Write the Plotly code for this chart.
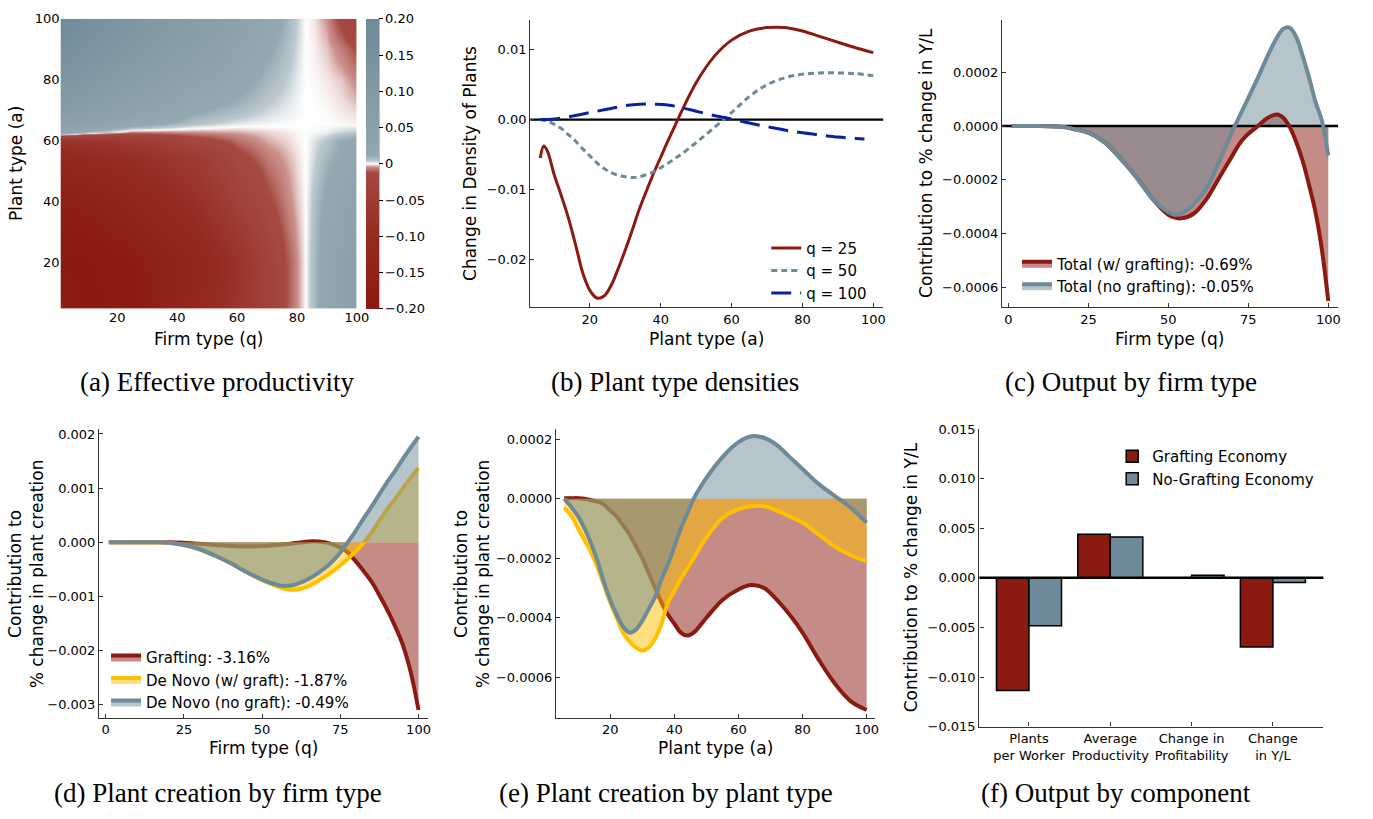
import plotly.graph_objects as go

W, H = 1373, 819
FONT = "DejaVu Sans"
SERIF = "Liberation Serif"
RED = "#8B1A10"
GRAY = "#6E8A98"
YEL = "#FFC000"
BLUE = "#0A22A0"
RED_F = "rgba(139,26,16,0.5)"
GRAY_F = "rgba(110,138,152,0.5)"
YEL_F = "rgba(255,192,0,0.5)"

# ---------------- data ----------------
# (a) effective productivity grid (rows = plant type a, cols = firm type q)
q_nodes = [1, 10, 25, 45, 60, 70, 76, 80, 83, 86, 90, 95, 100]
a_nodes = [5, 20, 40, 55, 60, 63, 66, 70, 80, 90, 100]
prod_z = [
    [-0.18, -0.20, -0.19, -0.12, -0.07, -0.03, -0.012, -0.004, 0.0, 0.008, 0.02, 0.035, 0.05],
    [-0.20, -0.20, -0.18, -0.13, -0.075, -0.03, -0.012, -0.004, 0.0, 0.008, 0.02, 0.035, 0.05],
    [-0.17, -0.16, -0.13, -0.085, -0.035, -0.014, -0.006, -0.002, 0.0, 0.006, 0.015, 0.025, 0.035],
    [-0.11, -0.10, -0.085, -0.05, -0.015, -0.006, -0.003, -0.001, 0.0, 0.003, 0.008, 0.013, 0.02],
    [-0.07, -0.065, -0.05, -0.02, -0.008, -0.003, -0.0015, -0.0005, 0.0, 0.002, 0.005, 0.012, 0.016],
    [0.03, 0.01, -0.005, -0.004, -0.003, -0.0015, -0.0008, -0.0003, 0.0, 0.0005, 0.001, 0.003, 0.004],
    [0.05, 0.04, 0.02, 0.006, 0.002, 0.0008, 0.0004, 0.0001, 0.0, 0.0, 0.0, -0.0003, -0.0006],
    [0.08, 0.065, 0.04, 0.014, 0.007, 0.003, 0.0015, 0.0006, 0.0, 0.0, -0.0002, -0.0008, -0.0015],
    [0.12, 0.10, 0.07, 0.035, 0.018, 0.008, 0.004, 0.0015, 0.0, -0.0003, -0.0008, -0.002, -0.005],
    [0.16, 0.135, 0.10, 0.06, 0.03, 0.014, 0.007, 0.0025, 0.0, -0.0006, -0.002, -0.006, -0.012],
    [0.20, 0.165, 0.12, 0.08, 0.045, 0.02, 0.01, 0.0035, 0.0, -0.001, -0.004, -0.015, -0.03],
]
cbar_vals = [0.2, 0.15, 0.1, 0.05, 0, -0.05, -0.1, -0.15, -0.2]
cbar_text = ["0.20", "0.15", "0.10", "0.05", "0", "\u22120.05", "\u22120.10", "\u22120.15", "\u22120.20"]

# (b) plant type densities
a_b = [6, 7, 8, 10, 12, 14, 16, 18, 20, 22, 24, 26, 28, 30, 32, 34, 36, 38, 40, 42, 44, 46,
       50, 55, 60, 65, 70, 75, 80, 85, 90, 95, 100]
dens_q25 = [-0.0055, -0.0038, -0.0045, -0.0080, -0.0110, -0.0142, -0.0180, -0.0220, -0.0245,
            -0.0256, -0.0253, -0.0238, -0.0214, -0.0187, -0.0158, -0.0128, -0.0102, -0.0077,
            -0.0054, -0.0031, -0.0009, 0.0013, 0.0053, 0.0090, 0.0114, 0.0127, 0.0132, 0.0132,
            0.0127, 0.0119, 0.0111, 0.0103, 0.0096]
dens_q50 = [0.0, -0.0001, -0.0002, -0.0007, -0.0013, -0.0022, -0.0031, -0.0042, -0.0052,
            -0.0062, -0.0070, -0.0076, -0.0080, -0.0082, -0.0083, -0.0082, -0.0079, -0.0075,
            -0.0069, -0.0063, -0.0056, -0.0049, -0.0033, -0.0012, 0.0010, 0.0033, 0.0050,
            0.0060, 0.0065, 0.0067, 0.0067, 0.0066, 0.0063]
a_blue = [6, 10, 14, 18, 22, 26, 30, 34, 38, 42, 46, 50, 55, 60, 65, 70, 75, 80, 85, 90, 95, 97.5]
dens_q100 = [0.0, 0.0001, 0.0004, 0.0008, 0.0012, 0.0016, 0.0020, 0.0022, 0.0022, 0.0021,
             0.0017, 0.0012, 0.0006, 0.0001, -0.0005, -0.0010, -0.0015, -0.0019, -0.0022,
             -0.0025, -0.0027, -0.0028]

# (c) output by firm type
q_c = [1, 5, 10, 15, 18, 20, 25, 30, 35, 40, 45, 50, 52, 54, 58, 62, 66, 70, 72, 74, 78, 81,
       84, 86, 88, 90, 92, 94, 96, 98, 100]
out_graft = [0, 0, 0, -0.000002, -0.000005, -0.00001, -0.000025, -0.00006, -0.00012, -0.00019,
             -0.00027, -0.00033, -0.00034, -0.000343, -0.000325, -0.00027, -0.00019, -0.00011,
             -0.00007, -0.00004, 0.0, 0.00003, 0.000043, 0.00003, -0.000005, -0.00006,
             -0.00013, -0.00022, -0.00032, -0.00046, -0.00065]
out_nograft = [0, 0, 0, -0.000002, -0.000005, -0.00001, -0.000025, -0.00006, -0.00012, -0.00019,
               -0.00027, -0.00032, -0.00033, -0.000325, -0.00029, -0.00023, -0.00013, -0.00002,
               0.00003, 0.00008, 0.00018, 0.00026, 0.00033, 0.000362, 0.000365, 0.00033,
               0.00026, 0.00018, 0.00009, 0.00002, -0.00011]

# (d) plant creation by firm type
q_d = [1, 10, 15, 20, 25, 30, 35, 40, 45, 50, 55, 57, 60, 63, 66, 70, 72, 75, 77, 79, 82, 85,
       87.5, 90, 92.5, 95, 97.5, 100]
cre_graft_q = [0, 0, 0, 0, -0.00001, -0.00003, -0.00005, -0.00007, -0.00008, -0.00007, -0.00005,
               -0.00004, -0.00002, 0.0, 0.00002, 0.0, -0.00003, -0.0001, -0.00017, -0.00029,
               -0.0005, -0.00073, -0.00098, -0.00125, -0.00155, -0.0019, -0.0024, -0.0031]
cre_dn_graft_q = [0, 0, 0, -0.00001, -0.00005, -0.00013, -0.00025, -0.00039, -0.00055, -0.0007,
                  -0.00082, -0.00086, -0.00088, -0.00085, -0.00078, -0.00064, -0.00056, -0.00043,
                  -0.00033, -0.00022, -0.00004, 0.00018, 0.0004, 0.00061, 0.0008, 0.001,
                  0.00119, 0.00137]
cre_dn_nograft_q = [0, 0, 0, -0.00001, -0.00005, -0.00013, -0.00025, -0.00039, -0.00055,
                    -0.00069, -0.00079, -0.00081, -0.00079, -0.00073, -0.00064, -0.00048,
                    -0.00038, -0.00019, -0.00003, 0.00013, 0.0004, 0.00066, 0.00089, 0.00111,
                    0.00132, 0.00154, 0.00175, 0.00195]

# (e) plant creation by plant type
a_e = [5.6, 8, 10, 12, 14, 16, 18, 20, 22, 24, 26, 28, 30, 32, 34, 36, 38, 40, 42, 44, 46, 50,
       55, 60, 64, 68, 72, 76, 80, 85, 90, 95, 100]
cre_graft_a = [0.000002, 0.000002, 0.000002, 0.0, -0.000005, -0.00001, -0.00002, -0.00004,
               -0.00006, -0.00009, -0.00012, -0.00016, -0.0002, -0.00025, -0.0003, -0.00035,
               -0.00039, -0.00042, -0.00045, -0.00046, -0.00045, -0.0004, -0.00034, -0.000305,
               -0.00029, -0.0003, -0.00034, -0.00039, -0.00045, -0.00054, -0.00062, -0.00068,
               -0.00071]
cre_dn_graft_a = [-0.00003, -0.00006, -0.0001, -0.00014, -0.00018, -0.00023, -0.00029, -0.00035,
                  -0.0004, -0.00045, -0.00048, -0.0005, -0.00051, -0.0005, -0.00047, -0.00042,
                  -0.00035, -0.00031, -0.00027, -0.000235, -0.0002, -0.00013, -0.000065,
                  -0.000035, -0.000025, -0.000025, -0.00004, -0.00006, -0.00008, -0.00012,
                  -0.00016, -0.00019, -0.00021]
cre_dn_nograft_a = [0.0, -0.00003, -0.00006, -0.0001, -0.00015, -0.00021, -0.00028, -0.00034,
                    -0.00039, -0.00043, -0.00045, -0.00044, -0.00041, -0.00037, -0.00033,
                    -0.00027, -0.00022, -0.00016, -0.0001, -0.00005, 0.0, 0.00007, 0.00014,
                    0.00019, 0.00021, 0.000205, 0.00018, 0.00014, 0.0001, 0.00005, 0.00001,
                    -0.00003, -0.00008]

# (f) output by component
components = ["Plants<br>per Worker", "Average<br>Productivity", "Change in<br>Profitability",
              "Change<br>in Y/L"]
comp_pos = [0, 1, 2, 3]
comp_graft = [-0.01137, 0.00439, 0.0, -0.00698]
comp_nograft = [-0.00483, 0.00413, 0.00026, -0.00047]


def fx(p):
    return p / W


def fy(p):
    return 1 - p / H


fig = go.Figure()

# ---------------- (a) heatmap ----------------
CS = [[0.0, "#8B1A10"], [0.25, "#952A21"], [0.4, "#9F3F38"], [0.47, "#A54A43"],
      [0.49, "#CC928D"], [0.5, "#FFFFFF"], [0.51, "#BCC9CF"], [0.53, "#93A8B1"],
      [0.6, "#8DA2AC"], [0.75, "#8299A4"], [1.0, "#6E8A98"]]
fig.add_trace(go.Heatmap(
    x=q_nodes, y=a_nodes, z=prod_z, zmin=-0.2, zmax=0.2, zsmooth="best", colorscale=CS,
    xaxis="x", yaxis="y", hoverinfo="skip",
    colorbar=dict(x=fx(369), xanchor="left", y=fy(12), yanchor="top", len=295 / H,
                  lenmode="fraction", thickness=13, outlinewidth=0, xpad=0, ypad=0,
                  ticks="outside", ticklen=4, tickwidth=1, tickcolor="black",
                  tickvals=cbar_vals, ticktext=cbar_text,
                  tickfont=dict(family=FONT, size=13, color="black"))))

# ---------------- (b) ----------------
fig.add_trace(go.Scatter(x=a_b, y=dens_q25, mode="lines", name="q = 25",
                         line=dict(color=RED, width=3, shape="spline"),
                         xaxis="x2", yaxis="y2", legend="legend"))
fig.add_trace(go.Scatter(x=a_b, y=dens_q50, mode="lines", name="q = 50",
                         line=dict(color=GRAY, width=3, dash="6px,4px", shape="spline"),
                         xaxis="x2", yaxis="y2", legend="legend"))
fig.add_trace(go.Scatter(x=a_blue, y=dens_q100, mode="lines", name="q = 100",
                         line=dict(color=BLUE, width=3, dash="20px,9px", shape="spline"),
                         xaxis="x2", yaxis="y2", legend="legend"))

# ---------------- (c) ----------------
for yy, fc in [(out_graft, RED_F), (out_nograft, GRAY_F)]:
    fig.add_trace(go.Scatter(x=q_c, y=yy, mode="lines", fill="tozeroy", fillcolor=fc,
                             line=dict(width=0, shape="spline"), showlegend=False,
                             hoverinfo="skip", xaxis="x3", yaxis="y3"))
fig.add_trace(go.Scatter(x=[-1.96, 103.1], y=[0, 0], mode="lines",
                         line=dict(color="black", width=2.5), showlegend=False,
                         hoverinfo="skip", xaxis="x3", yaxis="y3"))
for yy, lc in [(out_graft, RED), (out_nograft, GRAY)]:
    fig.add_trace(go.Scatter(x=q_c, y=yy, mode="lines", line=dict(color=lc, width=4, shape="spline"),
                             showlegend=False, xaxis="x3", yaxis="y3"))
for nm, lc, fc in [("Total (w/ grafting): -0.69%", RED, RED_F),
                   ("Total (no grafting): -0.05%", GRAY, GRAY_F)]:
    fig.add_trace(go.Scatter(x=[None], y=[None], mode="lines", fill="tozeroy", fillcolor=fc,
                             line=dict(color=lc, width=4), name=nm, legend="legend2",
                             xaxis="x3", yaxis="y3"))

# ---------------- (d) ----------------
for nm, yy, lc, fc in [("Grafting: -3.16%", cre_graft_q, RED, RED_F),
                       ("De Novo (w/ graft): -1.87%", cre_dn_graft_q, YEL, YEL_F),
                       ("De Novo (no graft): -0.49%", cre_dn_nograft_q, GRAY, GRAY_F)]:
    fig.add_trace(go.Scatter(x=q_d, y=yy, mode="lines", fill="tozeroy", fillcolor=fc,
                             line=dict(color=lc, width=4, shape="spline"), name=nm,
                             legend="legend3", xaxis="x4", yaxis="y4"))

# ---------------- (e) ----------------
for yy, lc, fc in [(cre_graft_a, RED, RED_F), (cre_dn_graft_a, YEL, YEL_F),
                   (cre_dn_nograft_a, GRAY, GRAY_F)]:
    fig.add_trace(go.Scatter(x=a_e, y=yy, mode="lines", fill="tozeroy", fillcolor=fc,
                             line=dict(color=lc, width=4, shape="spline"), showlegend=False,
                             xaxis="x5", yaxis="y5"))

# ---------------- (f) ----------------
fig.add_trace(go.Bar(x=comp_pos, y=comp_graft, width=0.4, offset=-0.4, name="Grafting Economy",
                     marker=dict(color=RED, line=dict(color="black", width=1.5)),
                     xaxis="x6", yaxis="y6", legend="legend4"))
fig.add_trace(go.Bar(x=comp_pos, y=comp_nograft, width=0.4, offset=0.0, name="No-Grafting Economy",
                     marker=dict(color=GRAY, line=dict(color="black", width=1.5)),
                     xaxis="x6", yaxis="y6", legend="legend4"))

# ---------------- layout ----------------
AX = dict(showgrid=False, zeroline=False, showline=True, linecolor="#333333", linewidth=1.3,
          ticks="inside", ticklen=4, tickwidth=1, tickcolor="#333333",
          tickfont=dict(family=FONT, size=13, color="black"))

LEG = dict(bgcolor="rgba(0,0,0,0)", font=dict(family=FONT, size=15, color="black"),
           xanchor="left", yanchor="top", borderwidth=0)

fig.update_layout(
    width=W, height=H, autosize=False, margin=dict(l=0, r=0, t=0, b=0),
    plot_bgcolor="white", paper_bgcolor="white", barmode="overlay",
    font=dict(family=FONT, size=13, color="black"),
    xaxis=dict(domain=[fx(61), fx(360)], range=[1, 100], anchor="y", tickvals=[20, 40, 60, 80, 100],
               showgrid=False, zeroline=False, showline=False, ticks="",
               tickfont=dict(family=FONT, size=13, color="black")),
    yaxis=dict(domain=[fy(307), fy(12)], range=[5, 100], anchor="x", tickvals=[20, 40, 60, 80, 100],
               showgrid=False, zeroline=False, showline=False, ticks="",
               tickfont=dict(family=FONT, size=13, color="black")),
    xaxis2=dict(AX, domain=[fx(535), fx(891)], range=[3.2, 102.8], anchor="y2",
                tickvals=[20, 40, 60, 80, 100]),
    yaxis2=dict(AX, domain=[fy(306), fy(13)], range=[-0.02694, 0.01432], anchor="x2",
                tickvals=[-0.02, -0.01, 0, 0.01], tickformat=".2f"),
    xaxis3=dict(AX, domain=[fx(1011), fx(1350)], range=[-1.96, 103.1], anchor="y3",
                tickvals=[0, 25, 50, 75, 100]),
    yaxis3=dict(AX, domain=[fy(306), fy(13)], range=[-0.000674, 0.000395], anchor="x3",
                tickvals=[-0.0006, -0.0004, -0.0002, 0, 0.0002], tickformat=".4f"),
    xaxis4=dict(AX, domain=[fx(100), fx(432)], range=[-2.1, 103.1], anchor="y4",
                tickvals=[0, 25, 50, 75, 100]),
    yaxis4=dict(AX, domain=[fy(724), fy(430)], range=[-0.003243, 0.00209], anchor="x4",
                tickvals=[-0.003, -0.002, -0.001, 0, 0.001, 0.002], tickformat=".3f"),
    xaxis5=dict(AX, domain=[fx(561), fx(883)], range=[3.08, 102.7], anchor="y5",
                tickvals=[20, 40, 60, 80, 100]),
    yaxis5=dict(AX, domain=[fy(724), fy(430)], range=[-0.000736, 0.000234], anchor="x5",
                tickvals=[-0.0006, -0.0004, -0.0002, 0, 0.0002], tickformat=".4f"),
    xaxis6=dict(AX, domain=[fx(988), fx(1335)], range=[-0.61, 3.62], anchor="y6",
                tickvals=comp_pos, ticktext=components),
    yaxis6=dict(AX, domain=[fy(733), fy(430)], range=[-0.015, 0.015], anchor="x6",
                tickvals=[-0.015, -0.01, -0.005, 0, 0.005, 0.01, 0.015], tickformat=".3f"),
    legend=dict(LEG, x=fx(773), y=fy(229)),
    legend2=dict(LEG, x=fx(1026), y=fy(245)),
    legend3=dict(LEG, x=fx(107), y=fy(646)),
    legend4=dict(LEG, x=fx(1122), y=fy(441)),
)

# zero lines
fig.add_shape(type="line", xref="x2 domain", yref="y2", x0=0, x1=1, y0=0, y1=0,
              line=dict(color="black", width=2.2), layer="below")
fig.add_shape(type="line", xref="x6 domain", yref="y6", x0=0, x1=1, y0=0, y1=0,
              line=dict(color="black", width=2.5), layer="above")
# colorbar spine
fig.add_shape(type="line", xref="paper", yref="paper", x0=fx(382), x1=fx(382), y0=fy(12), y1=fy(307),
              line=dict(color="black", width=1.2))


def ann(text, x, y, angle=0, size=17, family=FONT):
    fig.add_annotation(text=text, x=fx(x), y=fy(y), xref="paper", yref="paper", showarrow=False,
                       textangle=angle, xanchor="center", yanchor="middle",
                       font=dict(family=family, size=size, color="black"))


# axis titles
ann("Firm type (q)", 210, 338)
ann("Plant type (a)", 16, 159, -90)
ann("Plant type (a)", 713, 338)
ann("Change in Density of Plants", 474, 159, -90)
ann("Firm type (q)", 1180, 338)
ann("Contribution to % change in Y/L", 934, 159, -90)
ann("Firm type (q)", 266, 755)
ann("Contribution to<br>% change in plant creation", 27, 577, -90)
ann("Plant type (a)", 722, 755)
ann("Contribution to<br>% change in plant creation", 477, 577, -90)
ann("Contribution to % change in Y/L", 919, 581, -90)

# captions
ann("(a) Effective productivity", 219, 382, size=27, family=SERIF)
ann("(b) Plant type densities", 681, 382, size=27, family=SERIF)
ann("(c) Output by firm type", 1141, 382, size=27, family=SERIF)
ann("(d) Plant creation by firm type", 220, 801, size=27, family=SERIF)
ann("(e) Plant creation by plant type", 672, 801, size=27, family=SERIF)
ann("(f) Output by component", 1126, 801, size=27, family=SERIF)

fig.write_html("out.html")
